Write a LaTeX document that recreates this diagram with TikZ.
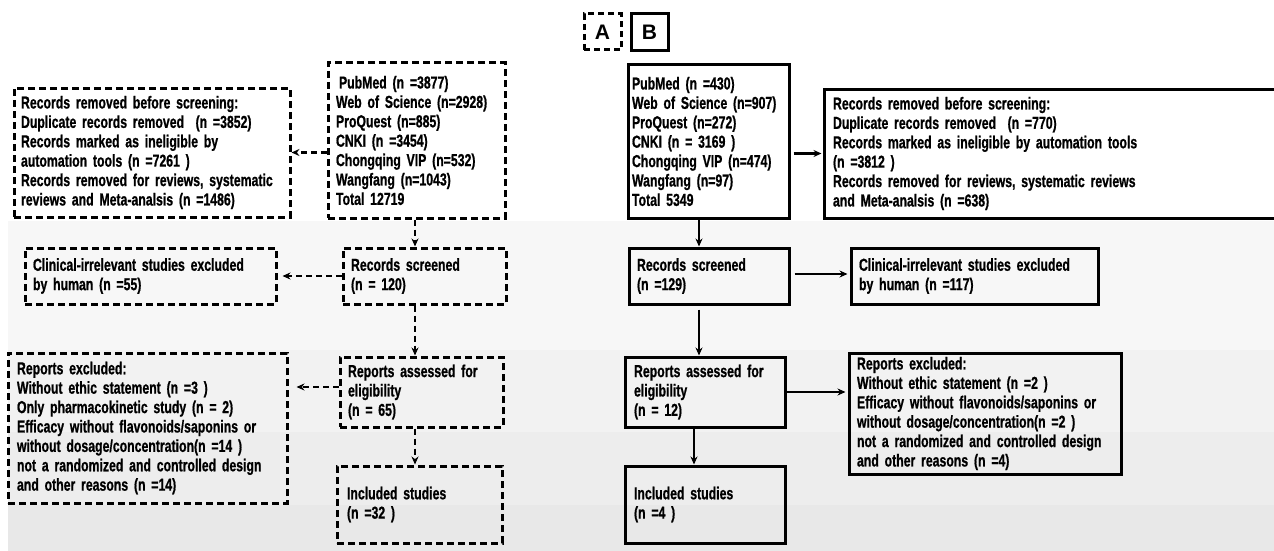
\documentclass[tikz,border=0pt]{standalone}
\usepackage{fontspec}
\setmainfont{Liberation Sans}[BoldFont={Liberation Sans Bold}, FakeStretch=0.71, BoldFeatures={FakeBold=0.8}]
\newfontfamily\labfont{Liberation Sans Bold}
\usetikzlibrary{arrows.meta}
\tikzset{
  box/.style={draw, line width=3pt, align=left, inner xsep=8pt, inner ysep=0pt,
    font=\bfseries\fontsize{17.3}{19.4}\selectfont, text=black},
  dbox/.style={box, dash pattern=on 7pt off 4pt},
  lab/.style={draw, line width=3pt, inner sep=0pt, font=\labfont\fontsize{21}{21}\selectfont},
  arr/.style={line width=2.3pt, -{Stealth[length=8pt,width=7pt]}},
  darr/.style={arr, dash pattern=on 6pt off 4pt}
}
\begin{document}
\begin{tikzpicture}[x=1pt,y=-1pt]
\useasboundingbox (0,0) rectangle (1274,551);
\clip (0,0) rectangle (1274,551);
\fill[white] (0,0) rectangle (1274,551);
% background bands
\fill[black!3] (8,221) rectangle (1274,350);
\fill[black!5] (8,350) rectangle (1274,432);
\fill[black!7] (8,432) rectangle (1274,505);
\fill[black!9] (8,505) rectangle (1274,551);

% labels
\node[lab, dash pattern=on 6pt off 4pt, minimum width=37pt, minimum height=36pt] (labA) at (602.5,32) {A};
\node[lab, minimum width=37pt, minimum height=37pt] (labB) at (649.5,32.5) {B};

% row 1
\node[dbox, text width=161pt, minimum width=177pt, minimum height=155pt] (asrc) at (416.5,140.5)
 {\hspace*{3pt}PubMed (n =3877)\\Web of Science (n=2928)\\ProQuest (n=885)\\CNKI (n =3454)\\Chongqing VIP (n=532)\\Wangfang (n=1043)\\Total 12719};
\node[dbox, text width=262pt, minimum width=276pt, minimum height=129pt, inner xsep=7pt] (arem) at (152,152.5)
 {Records removed before screening:\\Duplicate records removed\ \ (n =3852)\\Records marked as ineligible by\\automation tools (n =7261 )\\Records removed for reviews, systematic\\reviews and Meta-analsis (n =1486)};
\node[box, inner xsep=4pt, text width=153pt, minimum width=161pt, minimum height=153pt] (bsrc) at (708.5,141.5)
 {PubMed (n =430)\\Web of Science (n=907)\\ProQuest (n=272)\\CNKI (n = 3169 )\\Chongqing VIP (n=474)\\Wangfang (n=97)\\Total 5349};
\node[box, inner xsep=9pt, text width=440pt, minimum width=458pt, minimum height=129pt] (brem) at (1053,153.5)
 {Records removed before screening:\\Duplicate records removed\ \ (n =770)\\Records marked as ineligible by automation tools\\(n =3812 )\\Records removed for reviews, systematic reviews\\and Meta-analsis (n =638)};

% row 2
\node[dbox, text width=147pt, minimum width=163pt, minimum height=56pt] (ascr) at (424.5,276)
 {Records screened\\(n = 120)};
\node[dbox, text width=235pt, minimum width=251pt, minimum height=56pt] (acli) at (150.5,276)
 {Clinical-irrelevant studies excluded\\by human (n =55)};
\node[box, text width=144pt, minimum width=160pt, minimum height=56pt] (bscr) at (709,276)
 {Records screened\\(n =129)};
\node[box, text width=231pt, minimum width=247pt, minimum height=56pt] (bcli) at (974.5,276)
 {Clinical-irrelevant studies excluded\\by human (n =117)};

% row 3
\node[dbox, text width=147pt, minimum width=163pt, minimum height=70pt] (aass) at (421.5,392)
 {Reports assessed for\\eligibility\\(n = 65)};
\node[dbox, inner xsep=9pt, text width=261pt, minimum width=279pt, minimum height=150pt] (aexc) at (147.5,428)
 {Reports excluded:\\Without ethic statement (n =3 )\\Only pharmacokinetic study (n = 2)\\Efficacy without flavonoids/saponins or\\without dosage/concentration(n =14 )\\not a randomized and controlled design\\and other reasons (n =14)};
\node[box, inner xsep=9pt, text width=142pt, minimum width=160pt, minimum height=70pt] (bass) at (705,392)
 {Reports assessed for\\eligibility\\(n = 12)};
\node[box, text width=256pt, minimum width=272pt, minimum height=121pt] (bexc) at (985,413.5)
 {Reports excluded:\\Without ethic statement (n =2 )\\Efficacy without flavonoids/saponins or\\without dosage/concentration(n =2 )\\not a randomized and controlled design\\and other reasons (n =4)};

% row 4
\node[dbox, inner xsep=10pt, text width=145pt, minimum width=165pt, minimum height=77pt] (ainc) at (419.5,504.5)
 {Included studies\\(n =32 )};
\node[box, inner xsep=9pt, text width=142pt, minimum width=160pt, minimum height=77pt] (binc) at (705,504.5)
 {Included studies\\(n =4 )};

% helper coordinates
\coordinate (ax) at (415,0);
\coordinate (bx1) at (699,0);
\coordinate (bx2) at (694,0);

% A connectors
\draw[darr] (asrc.west |- arem.east) -- (arem.east);
\draw[darr, shorten >=5pt] (ascr.west) -- (acli.east);
\draw[darr, shorten >=8pt] ([yshift=5pt]aass.west) -- ([yshift=5pt]aass.west -| aexc.east);
\draw[darr] (asrc.south -| ax) -- (ascr.north -| ax);
\draw[darr] (ascr.south -| ax) -- (aass.north -| ax);
\draw[darr] (aass.south -| ax) -- (ainc.north -| ax);

% B connectors
\draw[arr, shorten <=3pt, shorten >=1pt] (bsrc.east |- brem.west) -- (brem.west);
\draw[arr, shorten <=4pt, shorten >=2pt] ([yshift=2pt]bscr.east) -- ([yshift=2pt]bscr.east -| bcli.west);
\draw[arr, shorten >=2pt] (bass.east) -- (bass.east -| bexc.west);
\draw[arr] (bsrc.south -| bx1) -- (bscr.north -| bx1);
\draw[arr, shorten <=4pt] (bscr.south -| bx1) -- (bass.north -| bx1);
\draw[arr] (bass.south -| bx2) -- (binc.north -| bx2);
\end{tikzpicture}
\end{document}
